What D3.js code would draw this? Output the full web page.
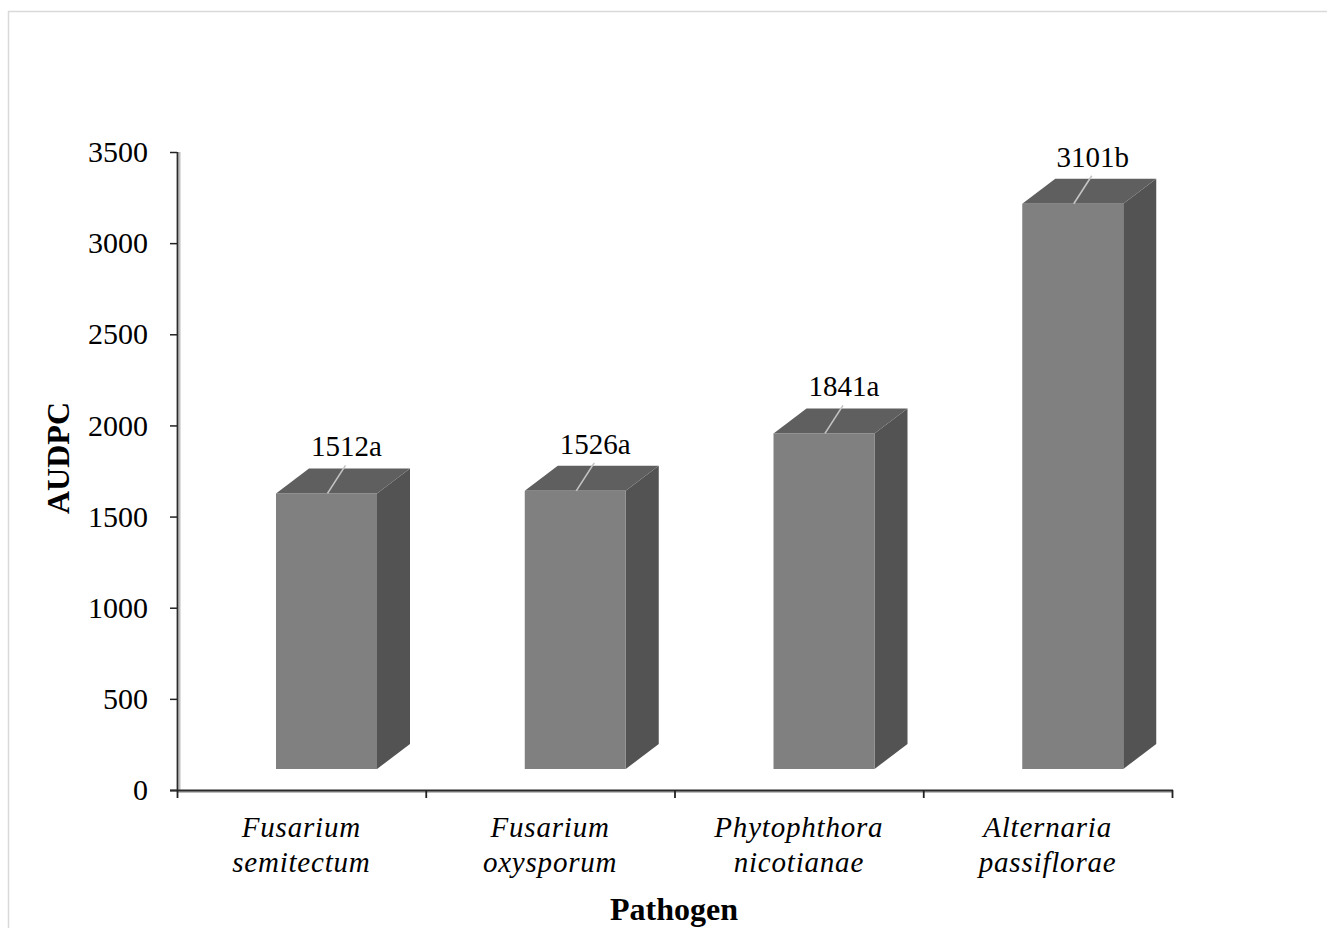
<!DOCTYPE html>
<html>
<head>
<meta charset="utf-8">
<script src="https://cdn.jsdelivr.net/npm/d3@7"></script>
<style>
  html, body { margin: 0; padding: 0; background: #fff; }
  svg { display: block; }
  text { font-family: "Liberation Serif", "Times New Roman", serif; fill: #000; }
</style>
</head>
<body>
<svg id="chart" width="1327" height="928"></svg>
<script>
// AUDPC per pathogen, with letter groupings from the mean comparison
const pathogenLine1 = ["Fusarium", "Fusarium", "Phytophthora", "Alternaria"];
const pathogenLine2 = ["semitectum", "oxysporum", "nicotianae", "passiflorae"];
const audpc = [1512, 1526, 1841, 3101];
const groupLetters = ["a", "a", "a", "b"];
const yTickValues = [0, 500, 1000, 1500, 2000, 2500, 3000, 3500];

const categories = pathogenLine1.map((d, i) => d + " " + pathogenLine2[i]);
const data = categories.map((c, i) => ({
  cat: c, l1: pathogenLine1[i], l2: pathogenLine2[i], value: audpc[i], letter: groupLetters[i]
}));

const svg = d3.select("#chart");

// light frame around the chart area
svg.append("rect")
  .attr("x", 8.5).attr("y", 11.5)
  .attr("width", 1340).attr("height", 940)
  .attr("fill", "none").attr("stroke", "#d9d9d9").attr("stroke-width", 1.5);

const x = d3.scaleBand().domain(categories).range([177, 1172]).padding(0);
const y = d3.scaleLinear().domain([0, 3500]).range([790, 152]);

// 3-D column geometry (front face offset from the floor, depth projection)
const frontLift = 21;
const depthX = 33, depthY = 25;
const bw = x.bandwidth();
const frontOff = bw * 0.398;
const frontW = bw * 0.406;

const defs = svg.append("defs");
defs.append("filter").attr("id", "soft")
  .append("feGaussianBlur").attr("stdDeviation", 0.6);

const bars = svg.append("g").attr("filter", "url(#soft)")
  .selectAll("g").data(data).join("g");

bars.each(function(d) {
  const g = d3.select(this);
  const x0 = x(d.cat) + frontOff;
  const x1 = x0 + frontW;
  const yb = y(0) - frontLift;
  const yt = y(d.value) - frontLift;
  // side face
  g.append("path")
    .attr("d", `M${x1},${yt}L${x1 + depthX},${yt - depthY}L${x1 + depthX},${yb - depthY}L${x1},${yb}Z`)
    .attr("fill", "#525252");
  // top face
  g.append("path")
    .attr("d", `M${x0},${yt}L${x0 + depthX},${yt - depthY}L${x1 + depthX},${yt - depthY}L${x1},${yt}Z`)
    .attr("fill", "#5f5f5f");
  // front face
  g.append("rect")
    .attr("x", x0).attr("y", yt)
    .attr("width", frontW).attr("height", yb - yt)
    .attr("fill", "#808080");
});

// value labels with leader lines
const labels = svg.append("g").selectAll("g").data(data).join("g");
labels.each(function(d) {
  const g = d3.select(this);
  const xm = x(d.cat) + frontOff + frontW / 2;
  const yt = y(d.value) - frontLift;
  g.append("line")
    .attr("x1", xm + 1).attr("y1", yt)
    .attr("x2", xm + 19).attr("y2", yt - 28)
    .attr("stroke", "#c4c4c4").attr("stroke-width", 1.6);
  g.append("text")
    .attr("x", xm + 20).attr("y", yt - 37)
    .attr("text-anchor", "middle")
    .style("font-size", "29px")
    .text(d.value + d.letter);
});

// y axis
const yAxis = svg.append("g").attr("transform", "translate(177,0)")
  .call(d3.axisLeft(y).tickValues(yTickValues).tickFormat(d3.format("d"))
    .tickSize(7).tickPadding(22).tickSizeOuter(0));
yAxis.select(".domain").remove();
yAxis.selectAll(".tick line").attr("stroke", "#222").attr("stroke-width", 1.5);
yAxis.selectAll(".tick text")
  .style("font-size", "30px")
  .style("font-family", "'Liberation Serif', 'Times New Roman', serif")
  .attr("fill", "#000");
svg.append("line").attr("x1", 179.5).attr("x2", 179.5).attr("y1", y(3500)).attr("y2", y(0))
  .attr("stroke", "#bdbdbd").attr("stroke-width", 2);
svg.append("line").attr("x1", 177.5).attr("x2", 177.5).attr("y1", y(3500)).attr("y2", y(0))
  .attr("stroke", "#2b2b2b").attr("stroke-width", 1.8);

// x axis
const xAxisY = y(0);
svg.append("line").attr("x1", 177).attr("x2", 1173).attr("y1", xAxisY + 2).attr("y2", xAxisY + 2)
  .attr("stroke", "#bdbdbd").attr("stroke-width", 2);
svg.append("line").attr("x1", 170).attr("x2", 1173).attr("y1", xAxisY + 0.5).attr("y2", xAxisY + 0.5)
  .attr("stroke", "#2b2b2b").attr("stroke-width", 1.8);
const bounds = categories.map(c => x(c)).concat([x.range()[1]]);
svg.append("g").selectAll("line").data(bounds).join("line")
  .attr("x1", d => d + 0.5).attr("x2", d => d + 0.5)
  .attr("y1", xAxisY).attr("y2", xAxisY + 8)
  .attr("stroke", "#222").attr("stroke-width", 1.8);

// category labels (italic species names on two lines)
const catLabels = svg.append("g").selectAll("text").data(data).join("text")
  .attr("text-anchor", "middle")
  .attr("x", d => x(d.cat) + bw / 2)
  .style("font-size", "29px")
  .style("font-style", "italic")
  .style("letter-spacing", "0.8px");
catLabels.append("tspan").attr("x", d => x(d.cat) + bw / 2).attr("y", 837).text(d => d.l1);
catLabels.append("tspan").attr("x", d => x(d.cat) + bw / 2).attr("y", 872).text(d => d.l2);

// axis titles
svg.append("text")
  .attr("x", 674).attr("y", 920)
  .attr("text-anchor", "middle")
  .style("font-size", "32px").style("font-weight", "bold")
  .text("Pathogen");

svg.append("text")
  .attr("transform", "translate(69,458) rotate(-90)")
  .attr("text-anchor", "middle")
  .style("font-size", "32px").style("font-weight", "bold")
  .text("AUDPC");
</script>
</body>
</html>
